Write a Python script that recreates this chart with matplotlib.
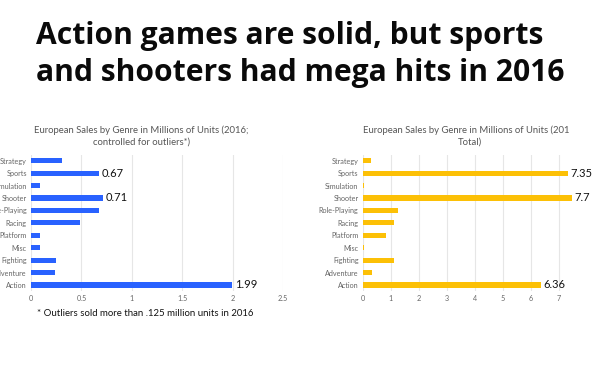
import matplotlib.pyplot as plt
from matplotlib.transforms import Bbox, TransformedBbox

plt.rcParams['font.family'] = ['Lato', 'DejaVu Sans']

genres = ['Action', 'Adventure', 'Fighting', 'Misc', 'Platform', 'Racing',
          'Role-Playing', 'Shooter', 'Simulation', 'Sports', 'Strategy']
controlled = [1.99, 0.24, 0.25, 0.09, 0.09, 0.485, 0.67, 0.71, 0.09, 0.67, 0.31]
total = [6.36, 0.35, 1.12, 0.05, 0.84, 1.11, 1.26, 7.7, 0.05, 7.35, 0.28]
labelled = ['Action', 'Shooter', 'Sports']

blue = '#2962FF'
yellow = '#FCC006'
grey = '#666666'

fig = plt.figure(figsize=(6.06, 3.84), dpi=100)

headline = ['Action games are solid, but sports', 'and shooters had mega hits in 2016']
for i, line in enumerate(headline):
    fig.text(36 / 606, 1 - (44 + 36.5 * i) / 384, line, fontsize=21.6, fontweight='bold',
             family=['Open Sans', 'DejaVu Sans'], ha='left', va='baseline', color='#0a0a0a')


def draw(ax, vals, color, xmax, ticks, ticklabels, title, title_x):
    ax.barh(genres, vals, height=0.42, color=color, zorder=2)
    ax.set_xlim(0, xmax)
    ax.set_ylim(-0.5, len(genres) - 0.5)
    ax.set_xticks(ticks)
    ax.set_xticklabels(ticklabels)
    ax.grid(axis='x', color='#e6e6e6', linewidth=0.8, zorder=0)
    for s in ax.spines.values():
        s.set_visible(False)
    ax.tick_params(length=0, labelsize=5.2, labelcolor=grey, pad=3)
    for g, v in zip(genres, vals):
        if g in labelled:
            ax.text(min(v, xmax) + xmax * 0.012, g, f'{v:g}', va='center', ha='left',
                    fontsize=8, color='#111111', clip_on=False)
    t = ax.set_title(title, fontsize=6.85, color='#555555', pad=7, linespacing=1.45, x=title_x)
    return t


ax1 = fig.add_axes([31 / 606, 1 - 291.2 / 384, 252 / 606, 136.7 / 384])
draw(ax1, controlled, blue, 2.5, [0, 0.5, 1, 1.5, 2, 2.5], ['0', '0.5', '1', '1.5', '2', '2.5'],
     'European Sales by Genre in Millions of Units (2016;\ncontrolled for outliers*)', 0.437)

ax2 = fig.add_axes([362.7 / 606, 1 - 291.2 / 384, 209 / 606, 136.7 / 384])
t2 = draw(ax2, total, yellow, 7.47, range(8), [str(i) for i in range(8)],
          'European Sales by Genre in Millions of Units (2016;\nTotal)', 0.515)
t2.set_clip_box(TransformedBbox(Bbox([[0, 0], [569 / 606, 1]]), fig.transFigure))
t2.set_clip_on(True)

fig.text(37 / 606, 1 - 313 / 384, '* Outliers sold more than .125 million units in 2016',
         fontsize=6.9, color='#111111', ha='left', va='center')

fig.savefig('out.png', dpi=100)
